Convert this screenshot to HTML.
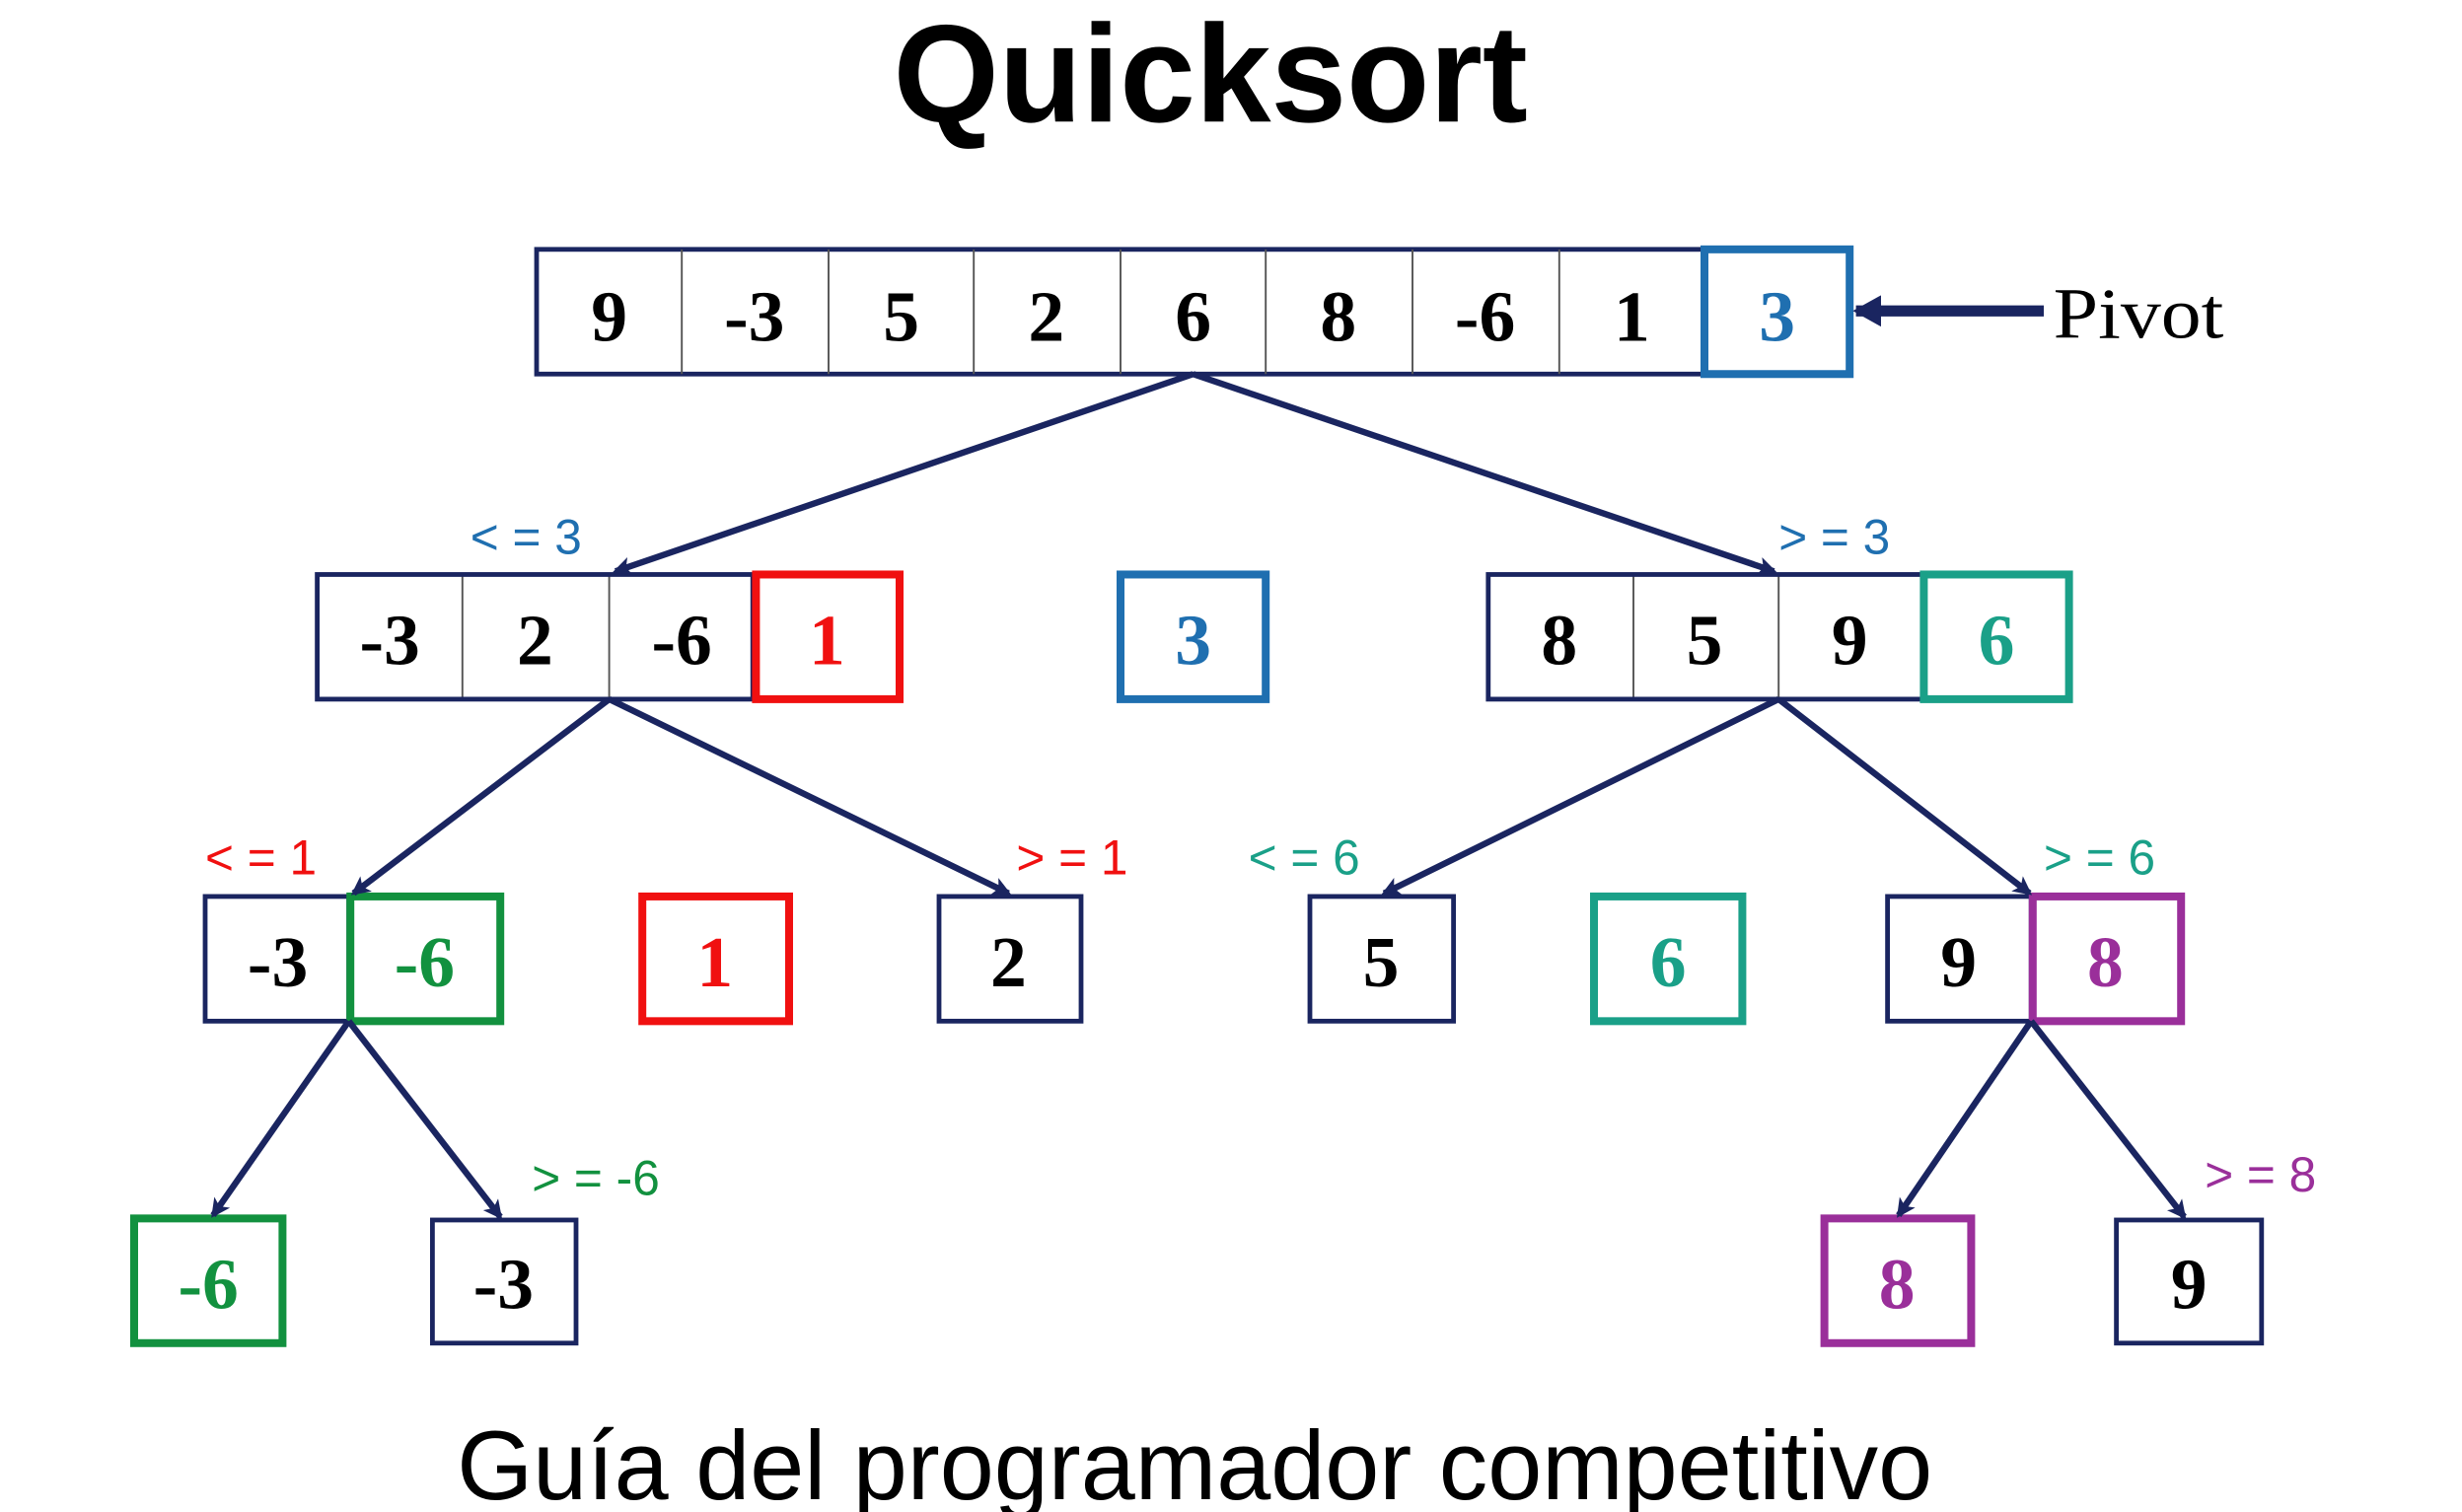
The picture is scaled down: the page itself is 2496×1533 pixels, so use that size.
<!DOCTYPE html>
<html><head><meta charset="utf-8"><style>
html,body{margin:0;padding:0;background:#fff;}
svg{display:block;}
.n{font-family:"Liberation Serif",serif;font-weight:bold;font-size:46px;text-anchor:middle;}
.l{font-family:"Liberation Sans",sans-serif;font-size:31px;}
</style></head><body>
<svg width="2496" height="1533" viewBox="0 0 1560 958" preserveAspectRatio="none" xmlns="http://www.w3.org/2000/svg">
<defs>
<marker id="a" markerWidth="12" markerHeight="12" refX="10" refY="6" orient="auto" markerUnits="userSpaceOnUse"><path d="M0,0 L12,6 L0,12 L3,6 Z" fill="#1a2560"/></marker>
<marker id="b" markerWidth="18" markerHeight="20" refX="16" refY="10" orient="auto" markerUnits="userSpaceOnUse"><path d="M0,0 L18,10 L0,20 Z" fill="#1a2560"/></marker>
</defs>
<text x="767" y="77" text-anchor="middle" font-family="Liberation Sans,sans-serif" font-weight="bold" font-size="88" textLength="402" lengthAdjust="spacingAndGlyphs">Quicksort</text>
<text x="757" y="950" text-anchor="middle" font-family="Liberation Sans,sans-serif" font-size="62" textLength="935" lengthAdjust="spacingAndGlyphs">Guía del programador competitivo</text>

<g fill="none" stroke="#1a2560" stroke-width="3">
<rect x="340" y="158" width="740" height="79"/>
<g stroke="#555" stroke-width="1.2">
<line x1="432" y1="158" x2="432" y2="237"/><line x1="525" y1="158" x2="525" y2="237"/><line x1="617" y1="158" x2="617" y2="237"/><line x1="710" y1="158" x2="710" y2="237"/><line x1="802" y1="158" x2="802" y2="237"/><line x1="895" y1="158" x2="895" y2="237"/><line x1="988" y1="158" x2="988" y2="237"/>
<line x1="293" y1="364" x2="293" y2="443"/><line x1="386" y1="364" x2="386" y2="443"/>
<line x1="1035" y1="364" x2="1035" y2="443"/><line x1="1127" y1="364" x2="1127" y2="443"/>
</g>
<rect x="201" y="364" width="276" height="79"/>
<rect x="943" y="364" width="276" height="79"/>
<rect x="130" y="568" width="91" height="79"/>
<rect x="595" y="568" width="90" height="79"/>
<rect x="830" y="568" width="91" height="79"/>
<rect x="1196" y="568" width="91" height="79"/>
<rect x="274" y="773" width="91" height="78"/>
<rect x="1341" y="773" width="92" height="78"/>
</g>
<g fill="none" stroke-width="5">
<rect x="1080" y="158" width="92" height="79" stroke="#1f6fb0"/>
<rect x="479" y="364" width="91" height="79" stroke="#f01010"/>
<rect x="710" y="364" width="92" height="79" stroke="#1f6fb0"/>
<rect x="1219" y="364" width="92" height="79" stroke="#1aa088"/>
<rect x="222" y="568" width="95" height="79" stroke="#12913f"/>
<rect x="407" y="568" width="93" height="79" stroke="#f01010"/>
<rect x="1010" y="568" width="94" height="79" stroke="#1aa088"/>
<rect x="1288" y="568" width="94" height="79" stroke="#9a2f9a"/>
<rect x="85" y="772" width="94" height="79" stroke="#12913f"/>
<rect x="1156" y="772" width="93" height="79" stroke="#9a2f9a"/>
</g>
<g stroke="#1a2560" stroke-width="4" marker-end="url(#a)">
<line x1="756" y1="237" x2="390" y2="362"/>
<line x1="756" y1="237" x2="1124" y2="362"/>
<line x1="386" y1="443" x2="224" y2="566"/>
<line x1="386" y1="443" x2="639" y2="566"/>
<line x1="1127" y1="443" x2="877" y2="566"/>
<line x1="1127" y1="443" x2="1286" y2="566"/>
<line x1="221" y1="647" x2="135" y2="770"/>
<line x1="221" y1="647" x2="317" y2="771"/>
<line x1="1287" y1="647" x2="1203" y2="770"/>
<line x1="1287" y1="647" x2="1384" y2="771"/>
</g>
<line x1="1295" y1="197" x2="1176" y2="197" stroke="#1a2560" stroke-width="7" marker-end="url(#b)"/>
<text x="1301" y="214" font-family="Liberation Serif,serif" font-size="46" textLength="108" lengthAdjust="spacingAndGlyphs">Pivot</text>

<g class="n">
<text x="386" y="216">9</text><text x="478" y="216">-3</text><text x="571" y="216">5</text><text x="663" y="216">2</text><text x="756" y="216">6</text><text x="848" y="216">8</text><text x="941" y="216">-6</text><text x="1034" y="216">1</text><text x="1126" y="216" fill="#1f6fb0">3</text>
<text x="247" y="421">-3</text><text x="339" y="421">2</text><text x="432" y="421">-6</text><text x="524" y="421" fill="#f01010">1</text>
<text x="756" y="421" fill="#1f6fb0">3</text>
<text x="988" y="421">8</text><text x="1080" y="421">5</text><text x="1172" y="421">9</text><text x="1265" y="421" fill="#1aa088">6</text>
<text x="176" y="625">-3</text><text x="269" y="625" fill="#12913f">-6</text><text x="453" y="625" fill="#f01010">1</text><text x="639" y="625">2</text><text x="875" y="625">5</text><text x="1057" y="625" fill="#1aa088">6</text><text x="1241" y="625">9</text><text x="1334" y="625" fill="#9a2f9a">8</text>
<text x="132" y="829" fill="#12913f">-6</text><text x="319" y="829">-3</text><text x="1202" y="829" fill="#9a2f9a">8</text><text x="1387" y="829">9</text>
</g>
<g class="l">
<text x="298" y="351" fill="#1f6fb0">&lt; = 3</text>
<text x="1127" y="351" fill="#1f6fb0">&gt; = 3</text>
<text x="130" y="554" fill="#f01010">&lt; = 1</text>
<text x="644" y="554" fill="#f01010">&gt; = 1</text>
<text x="791" y="554" fill="#1aa088">&lt; = 6</text>
<text x="1295" y="554" fill="#1aa088">&gt; = 6</text>
<text x="337" y="757" fill="#12913f">&gt; = -6</text>
<text x="1397" y="755" fill="#9a2f9a">&gt; = 8</text>
</g>
</svg>
</body></html>
